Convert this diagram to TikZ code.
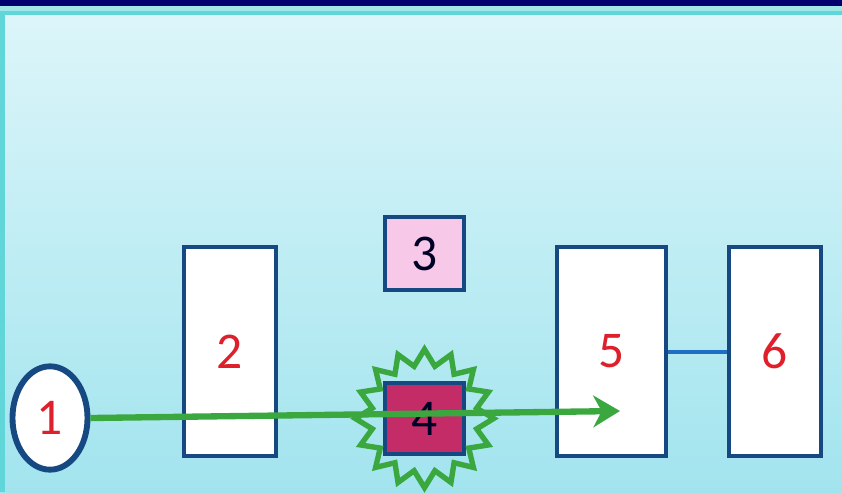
\documentclass[tikz,border=0pt]{standalone}
\usepackage{fontspec}
\setmainfont{Carlito}
\usepackage{tikz}
\usetikzlibrary{shapes.geometric, arrows.meta}
\definecolor{BgNavy}{RGB}{0,0,110}
\definecolor{BgTop}{RGB}{222,246,250}
\definecolor{BgBottom}{RGB}{162,228,238}
\definecolor{BgEdge}{RGB}{96,214,216}
\definecolor{BoxNavy}{RGB}{22,72,130}
\definecolor{LblRed}{RGB}{222,32,44}
\definecolor{FlowGreen}{RGB}{58,168,62}
\definecolor{LinkBlue}{RGB}{30,110,200}
\definecolor{BoxPink}{RGB}{248,200,232}
\definecolor{BoxMagenta}{RGB}{196,44,104}

\begin{document}
\begin{tikzpicture}[x=0.03cm, y=-0.03cm,
      box/.style={rectangle, draw=BoxNavy, line width=4pt, fill=white,
                  inner sep=0pt, font=\fontsize{44}{44}\selectfont,
                  text=LblRed},
      tall/.style={box, minimum height=6.27cm},
      small/.style={box, minimum width=2.37cm, text=black!85!blue},
      flow/.style={draw=FlowGreen, line width=5.4pt,
                   -{Stealth[length=0.8cm, width=0.95cm, inset=0.25cm]}},
      link/.style={draw=LinkBlue, line width=3.4pt}
    ]
    % background
    \useasboundingbox (0,0) rectangle (842,492);
    \fill[top color=BgTop, bottom color=BgBottom] (0,0) rectangle (842,492);
    \fill[BgEdge!60] (0,5) rectangle (842,11);
    \fill[BgEdge] (0,11) rectangle (842,15);
    \fill[BgEdge] (0,11) rectangle (5,492);
    \fill[BgNavy] (0,0) rectangle (842,6);

    % nodes
    \node[ellipse, draw=BoxNavy, line width=5pt, fill=white, inner sep=0pt,
          minimum width=2.25cm, minimum height=3.1cm,
          font=\fontsize{44}{44}\selectfont, text=LblRed] (n1) at (50,418) {1};
    \node[tall, minimum width=2.76cm] (n2) at (230,351.5) {2};
    \node[small, fill=BoxPink, minimum height=2.19cm] (n3) at (424.5,253.5) {3};
    \node[small, fill=BoxMagenta, minimum height=2.13cm] (n4) at (424.5,418.5) {4};
    \node[star, star points=16, star point ratio=1.3, draw=FlowGreen,
          line width=4.6pt, minimum size=4.15cm, inner sep=0pt] (burst)
          at (n4.center) {};
    \node[tall, minimum width=3.27cm] (n5) at (611.5,351.5) {5};
    \node[tall, minimum width=2.76cm] (n6) at (775,351.5) {6};

    % connectors
    \coordinate (tip) at (620,411);
    \draw[flow] (n1.east) -- (tip);
    \draw[link] (n5.east) -- (n6.west);
  \end{tikzpicture}
\end{document}
